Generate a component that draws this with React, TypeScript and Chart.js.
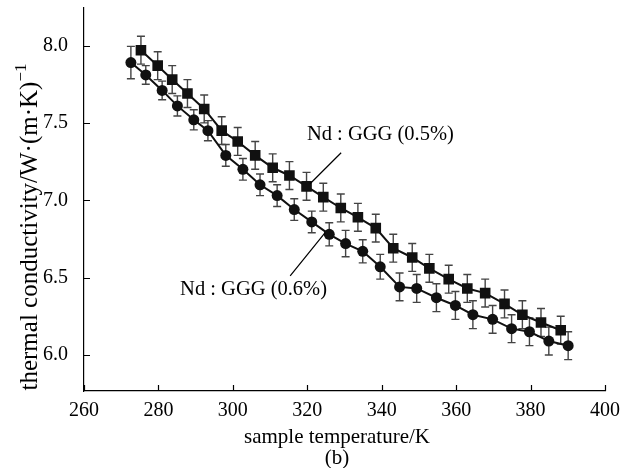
import React, { useEffect, useRef } from 'react';
import { Chart, registerables } from 'chart.js';

Chart.register(...registerables);

// Nd:GGG (0.5%) — squares
const tempSquares = [275.3, 279.8, 283.7, 287.8, 292.3, 297.0, 301.3, 306.0, 310.7, 315.2, 319.8, 324.3, 329.0, 333.6, 338.4, 343.1, 348.2, 352.8, 358.0, 363.0, 367.8, 373.0, 377.8, 382.8, 388.1];
const condSquares = [7.97, 7.87, 7.78, 7.69, 7.59, 7.45, 7.38, 7.29, 7.21, 7.16, 7.09, 7.02, 6.95, 6.89, 6.82, 6.69, 6.63, 6.56, 6.49, 6.43, 6.40, 6.33, 6.26, 6.21, 6.16];
const errSquares = [0.09, 0.09, 0.09, 0.09, 0.09, 0.09, 0.09, 0.09, 0.09, 0.09, 0.09, 0.09, 0.09, 0.09, 0.09, 0.09, 0.09, 0.09, 0.09, 0.09, 0.09, 0.09, 0.09, 0.09, 0.09];

// Nd:GGG (0.6%) — circles
const tempCircles = [272.6, 276.6, 281.0, 285.1, 289.5, 293.3, 298.1, 302.7, 307.3, 311.9, 316.5, 321.2, 325.9, 330.3, 334.9, 339.6, 344.8, 349.4, 354.7, 359.8, 364.5, 369.8, 374.9, 379.7, 384.9, 390.1];
const condCircles = [7.89, 7.81, 7.71, 7.61, 7.52, 7.45, 7.29, 7.20, 7.10, 7.03, 6.94, 6.86, 6.78, 6.72, 6.67, 6.57, 6.44, 6.43, 6.37, 6.32, 6.26, 6.23, 6.17, 6.15, 6.09, 6.06];
const errCircles = [0.105, 0.06, 0.06, 0.065, 0.065, 0.065, 0.07, 0.07, 0.07, 0.07, 0.07, 0.07, 0.075, 0.085, 0.075, 0.08, 0.09, 0.09, 0.09, 0.09, 0.09, 0.09, 0.09, 0.09, 0.09, 0.09];

const xTicks = [260, 280, 300, 320, 340, 360, 380, 400];
const yTicks = [6.0, 6.5, 7.0, 7.5, 8.0];

const labelSquares = 'Nd : GGG (0.5%)';
const labelCircles = 'Nd : GGG (0.6%)';
const xTitle = 'sample temperature/K';
const caption = '(b)';
const yTitle = 'thermal conductivity/W·(m·K)';
const yTitleSup = '−1';

const FONT = '"Liberation Serif", "Times New Roman", serif';

const errorsByDataset = [errSquares, errCircles];

const errorBarPlugin = {
  id: 'errorBars',
  beforeDatasetsDraw(chart: any) {
    const { ctx } = chart;
    const x = chart.scales.x;
    const y = chart.scales.y;
    ctx.save();
    ctx.strokeStyle = '#444';
    ctx.lineWidth = 1.4;
    chart.data.datasets.forEach((ds: any, i: number) => {
      const errs = errorsByDataset[i];
      ds.data.forEach((pt: any, j: number) => {
        const px = x.getPixelForValue(pt.x);
        const yt = y.getPixelForValue(pt.y + errs[j]);
        const yb = y.getPixelForValue(pt.y - errs[j]);
        ctx.beginPath();
        ctx.moveTo(px, yt);
        ctx.lineTo(px, yb);
        ctx.moveTo(px - 4, yt);
        ctx.lineTo(px + 4, yt);
        ctx.moveTo(px - 4, yb);
        ctx.lineTo(px + 4, yb);
        ctx.stroke();
      });
    });
    ctx.restore();
  },
};

const decorPlugin = {
  id: 'decor',
  afterDraw(chart: any) {
    const { ctx, chartArea } = chart;
    const x = chart.scales.x;
    const y = chart.scales.y;
    ctx.save();
    // inward tick marks
    ctx.strokeStyle = '#000';
    ctx.lineWidth = 1.2;
    ctx.beginPath();
    xTicks.forEach((t) => {
      const px = Math.round(x.getPixelForValue(t)) + 0.5;
      ctx.moveTo(px, chartArea.bottom);
      ctx.lineTo(px, chartArea.bottom - 6);
    });
    yTicks.forEach((t) => {
      const py = Math.round(y.getPixelForValue(t)) + 0.5;
      ctx.moveTo(chartArea.left, py);
      ctx.lineTo(chartArea.left + 6, py);
    });
    ctx.stroke();

    // annotations with leader lines
    ctx.lineWidth = 1.2;
    ctx.beginPath();
    ctx.moveTo(x.getPixelForValue(320.75), y.getPixelForValue(7.107));
    ctx.lineTo(x.getPixelForValue(329.1), y.getPixelForValue(7.307));
    ctx.moveTo(x.getPixelForValue(315.4), y.getPixelForValue(6.511));
    ctx.lineTo(x.getPixelForValue(324.8), y.getPixelForValue(6.79));
    ctx.stroke();

    ctx.fillStyle = '#000';
    ctx.font = `20.5px ${FONT}`;
    ctx.textBaseline = 'middle';
    ctx.textAlign = 'left';
    ctx.fillText(labelSquares, x.getPixelForValue(319.9), y.getPixelForValue(7.424));
    ctx.textAlign = 'right';
    ctx.fillText(labelCircles, x.getPixelForValue(325.3), y.getPixelForValue(6.42));

    // x title and caption
    ctx.font = `21px ${FONT}`;
    ctx.textAlign = 'center';
    ctx.fillText(xTitle, 337, 437);
    ctx.fillText(caption, 337, 458);

    // y title (rotated) with superscript
    ctx.translate(30, 227);
    ctx.rotate(-Math.PI / 2);
    ctx.font = `25px ${FONT}`;
    const mainW = ctx.measureText(yTitle).width;
    ctx.font = `17px ${FONT}`;
    const supW = ctx.measureText(yTitleSup).width;
    const total = mainW + supW;
    ctx.textAlign = 'left';
    ctx.font = `25px ${FONT}`;
    ctx.fillText(yTitle, -total / 2, 0);
    ctx.font = `17px ${FONT}`;
    ctx.fillText(yTitleSup, -total / 2 + mainW, -8);
    ctx.restore();
  },
};

export default function App() {
  const canvasRef = useRef<HTMLCanvasElement | null>(null);

  useEffect(() => {
    document.body.style.margin = '0';
    const canvas = canvasRef.current;
    if (!canvas) return;
    const tickFont = { family: FONT, size: 20 };
    const chart = new Chart(canvas, {
      type: 'line',
      data: {
        datasets: [
          {
            label: labelSquares,
            data: tempSquares.map((t, i) => ({ x: t, y: condSquares[i] })),
            borderColor: '#111',
            backgroundColor: '#111',
            borderWidth: 2,
            pointStyle: 'rect',
            pointRadius: 7.5,
            pointBorderWidth: 0,
            tension: 0,
          },
          {
            label: labelCircles,
            data: tempCircles.map((t, i) => ({ x: t, y: condCircles[i] })),
            borderColor: '#111',
            backgroundColor: '#111',
            borderWidth: 2,
            pointStyle: 'circle',
            pointRadius: 5.5,
            pointBorderWidth: 0,
            tension: 0,
          },
        ],
      },
      options: {
        responsive: false,
        animation: false,
        devicePixelRatio: 1,
        layout: { padding: { top: 7, right: 32, left: 0, bottom: 0 } },
        plugins: { legend: { display: false }, tooltip: { enabled: false } },
        scales: {
          x: {
            type: 'linear',
            min: 260,
            max: 400,
            afterFit: (s: any) => {
              s.height = 77;
              s.paddingLeft = 0;
              s.paddingRight = 0;
            },
            grid: { display: false, drawTicks: false },
            border: { display: true, color: '#000', width: 1.2 },
            ticks: {
              stepSize: 20,
              padding: 8,
              color: '#000',
              font: tickFont,
              maxRotation: 0,
              autoSkip: false,
            },
          },
          y: {
            type: 'linear',
            min: 5.767,
            max: 8.246,
            afterFit: (s: any) => {
              s.width = 84;
              s.paddingTop = 0;
              s.paddingBottom = 0;
            },
            grid: { display: false, drawTicks: false },
            border: { display: true, color: '#000', width: 1.2 },
            ticks: {
              stepSize: 0.5,
              includeBounds: false,
              padding: 16,
              color: '#000',
              font: tickFont,
              callback: (v: any) => Number(v).toFixed(1),
            },
          },
        },
      },
      plugins: [errorBarPlugin, decorPlugin],
    });
    return () => chart.destroy();
  }, []);

  return (
    <div style={{ width: 637, height: 468, background: '#fff' }}>
      <canvas ref={canvasRef} width={637} height={468} style={{ display: 'block' }} />
    </div>
  );
}
